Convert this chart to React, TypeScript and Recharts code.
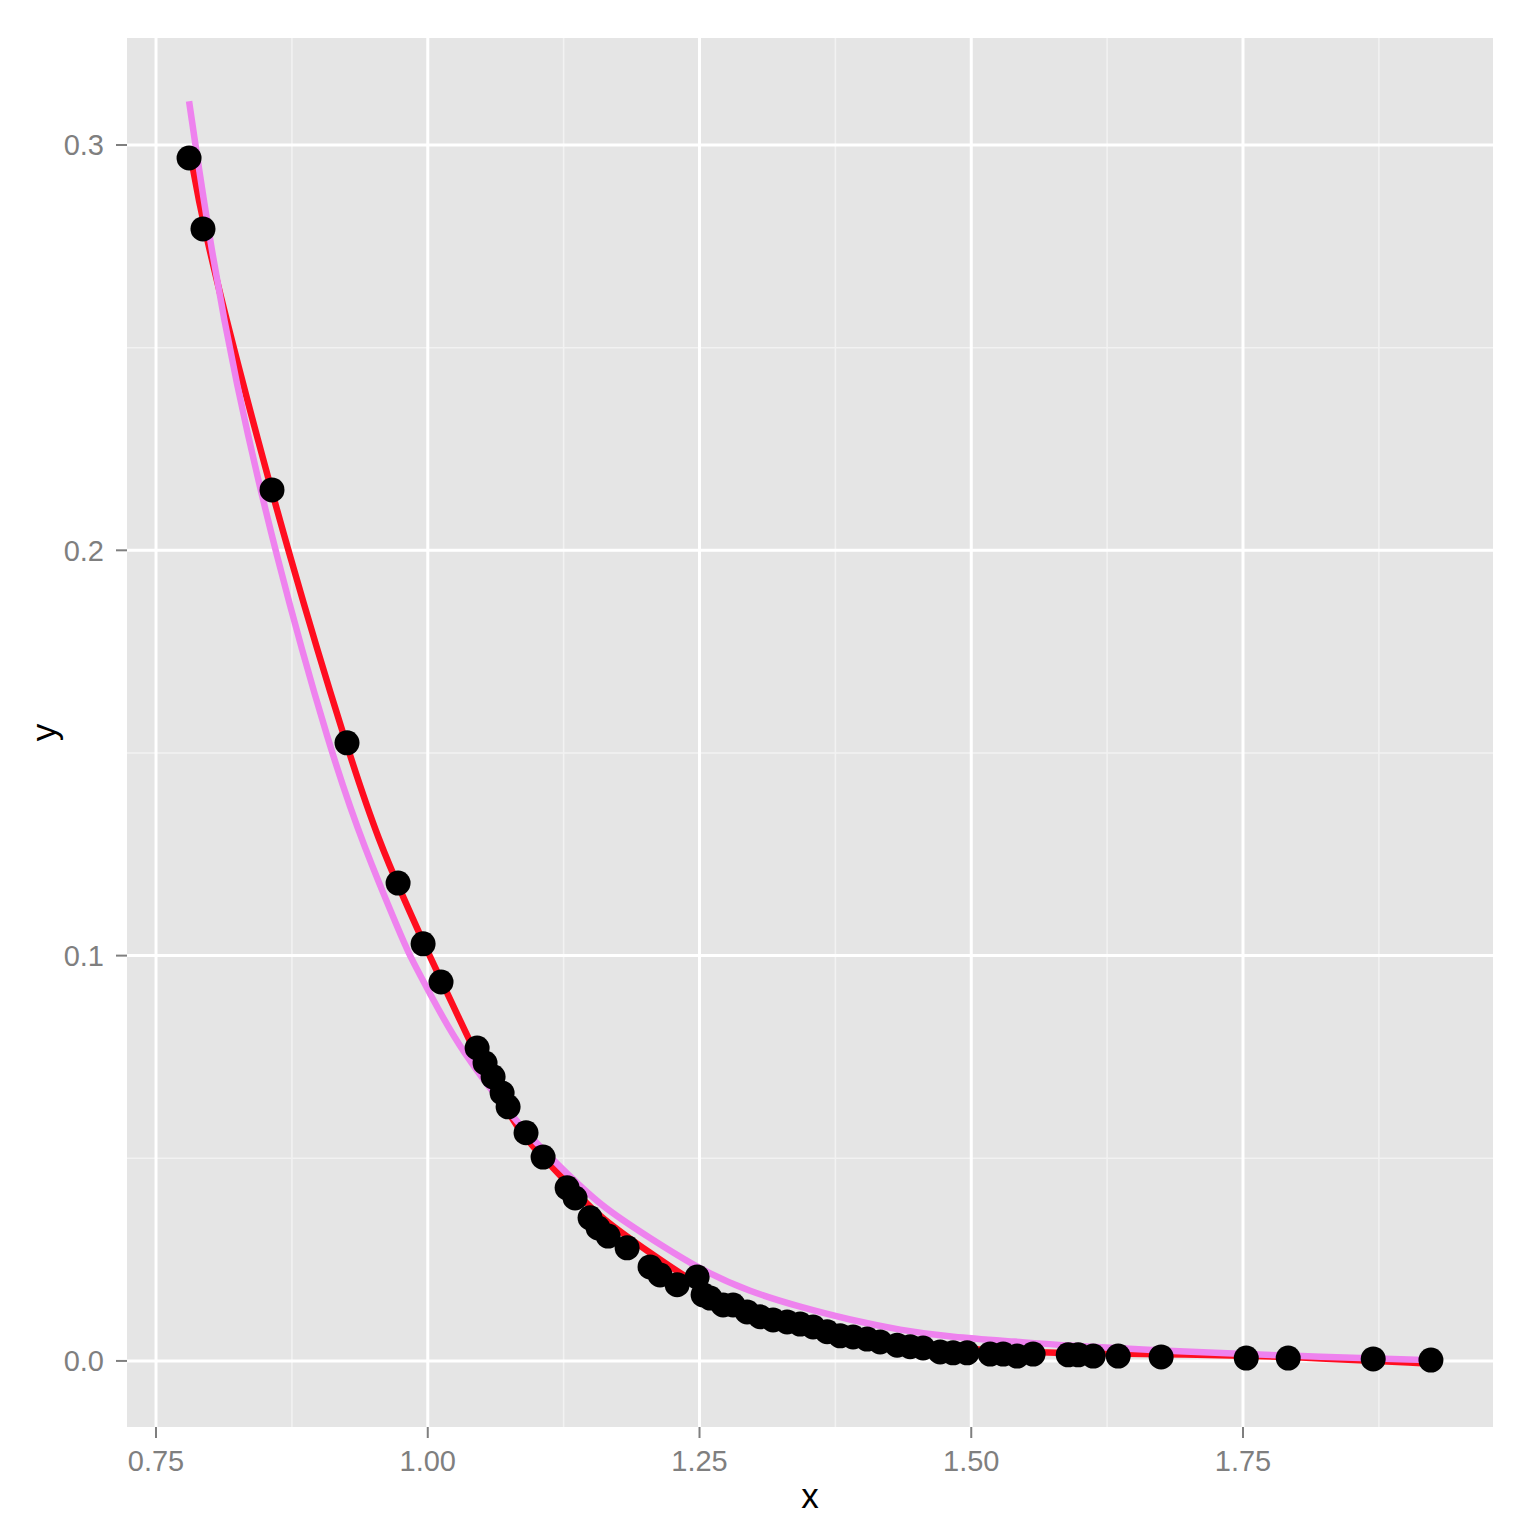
import React from "react";
import {
  ComposedChart,
  Scatter,
  Line,
  XAxis,
  YAxis,
  CartesianGrid,
} from "recharts";

// observed points
const pointX = [
  0.7804, 0.7932, 0.8567, 0.9257, 0.9727, 0.9957, 1.0122, 1.0454, 1.0527, 1.0601,
  1.0684, 1.0739, 1.0904, 1.1061, 1.1282, 1.1355, 1.1493, 1.1567, 1.1659, 1.1834,
  1.2045, 1.2137, 1.2294, 1.2478, 1.2533, 1.2598, 1.2717, 1.2809, 1.2938, 1.3058,
  1.3177, 1.3306, 1.3426, 1.3545, 1.3674, 1.3794, 1.3913, 1.4042, 1.4162, 1.4318,
  1.4438, 1.4557, 1.4714, 1.4833, 1.4962, 1.5174, 1.5294, 1.5422, 1.5569, 1.5892,
  1.5984, 1.6122, 1.6352, 1.6747, 1.753, 1.7916, 1.8698, 1.9229,
];
const pointY = [
  0.2968, 0.2793, 0.2149, 0.1525, 0.1179, 0.1029, 0.0935, 0.0772, 0.0735, 0.0701,
  0.0661, 0.0627, 0.0563, 0.0503, 0.0427, 0.0402, 0.0353, 0.0328, 0.0308, 0.0279,
  0.0232, 0.0212, 0.0188, 0.0207, 0.0163, 0.0155, 0.0138, 0.0138, 0.0121, 0.0109,
  0.0101, 0.0096, 0.0091, 0.0084, 0.0072, 0.0062, 0.0059, 0.0054, 0.0047, 0.0039,
  0.0035, 0.0032, 0.0022, 0.002, 0.002, 0.0017, 0.0017, 0.0012, 0.0017, 0.0015,
  0.0015, 0.0012, 0.0012, 0.001, 0.0007, 0.0007, 0.0005, 0.0002,
];

// red fit
const redX = [
  0.7804, 0.7939, 0.8289, 0.8708, 0.9269, 0.9561, 0.9773, 0.999, 1.0297, 1.05,
  1.0849, 1.1, 1.1401, 1.1585, 1.2045, 1.2506, 1.2966, 1.3426, 1.3886, 1.4346,
  1.4806, 1.545, 1.58, 1.7, 1.8, 1.9229,
];
const redY = [
  0.2995, 0.2791, 0.242, 0.2001, 0.15, 0.1275, 0.1145, 0.1014, 0.0841, 0.0723,
  0.0563, 0.052, 0.0405, 0.0355, 0.0266, 0.0183, 0.0121, 0.0084, 0.0059, 0.0044,
  0.0032, 0.0022, 0.002, 0.0016, 0.001, -0.0007,
];

// violet fit
const violetX = [
  0.7804, 0.7988, 0.8227, 0.8586, 0.9107, 0.9423, 0.9745, 0.9835, 1.0003, 1.0297,
  1.0849, 1.1217, 1.1585, 1.2045, 1.2506, 1.2966, 1.3426, 1.3886, 1.4346, 1.4806,
  1.545, 1.58, 1.7, 1.8, 1.9229,
];
const violetY = [
  0.3108, 0.2771, 0.242, 0.2001, 0.15, 0.1261, 0.1055, 0.0999, 0.0915, 0.0767,
  0.0577, 0.0479, 0.0383, 0.0303, 0.0225, 0.017, 0.0133, 0.0101, 0.0076, 0.0059,
  0.0047, 0.0039, 0.0022, 0.0012, 0.0002,
];

const xTicks = [0.75, 1.0, 1.25, 1.5, 1.75];
const yTicks = [0.0, 0.1, 0.2, 0.3];
const xMinor = [0.875, 1.125, 1.375, 1.625, 1.875];
const yMinor = [0.05, 0.15, 0.25];

const points = pointX.map((x, i) => ({ x, y: pointY[i] }));
const redLine = redX.map((x, i) => ({ x, y: redY[i] }));
const violetLine = violetX.map((x, i) => ({ x, y: violetY[i] }));

const font = "'Liberation Sans', Arial, Helvetica, sans-serif";
const tickStyle = { fill: "#7f7f7f", fontSize: 29, fontFamily: font };

const Dot = (props: any) => (
  <circle cx={props.cx} cy={props.cy} r={12.5} fill="#000000" />
);

const YLabel = (props: any) => {
  const { x, y, height } = props.viewBox;
  const cx = x + 43;
  const cy = y + height / 2;
  return (
    <text
      x={cx}
      y={cy}
      transform={`rotate(-90 ${cx} ${cy})`}
      textAnchor="middle"
      dominantBaseline="central"
      fontSize={35}
      fontFamily={font}
      fill="#000"
    >
      y
    </text>
  );
};

export default function App() {
  return (
    <div style={{ position: "absolute", left: 0, top: 0, background: "#fff" }}>
      <ComposedChart
        width={1520}
        height={1530}
        margin={{ top: 38, right: 27, left: 0, bottom: 0 }}
      >
        <CartesianGrid
          fill="#e5e5e5"
          stroke="#f2f2f2"
          strokeWidth={1.5}
          verticalValues={xMinor}
          horizontalValues={yMinor}
        />
        <CartesianGrid
          stroke="#ffffff"
          strokeWidth={3}
          verticalValues={xTicks}
          horizontalValues={yTicks}
        />
        <XAxis
          type="number"
          dataKey="x"
          domain={[0.7233, 1.98]}
          ticks={xTicks}
          tickFormatter={(v: number) => v.toFixed(2)}
          allowDataOverflow
          height={103}
          axisLine={false}
          tickSize={11}
          tickMargin={12}
          tickLine={{ stroke: "#7f7f7f", strokeWidth: 2 }}
          tick={tickStyle}
          label={{
            value: "x",
            position: "insideBottom",
            offset: 22,
            fontSize: 35,
            fontFamily: font,
            fill: "#000",
          }}
        />
        <YAxis
          type="number"
          dataKey="y"
          domain={[-0.0163, 0.3264]}
          ticks={yTicks}
          tickFormatter={(v: number) => v.toFixed(1)}
          allowDataOverflow
          width={127}
          axisLine={false}
          tickSize={11}
          tickMargin={12}
          tickLine={{ stroke: "#7f7f7f", strokeWidth: 2 }}
          tick={tickStyle}
          label={{ content: YLabel }}
        />
        <Scatter data={points} dataKey="y" shape={Dot} isAnimationActive={false} />
        <Line
          data={redLine}
          dataKey="y"
          type="basis"
          stroke="#ff0d1f"
          strokeWidth={6.5}
          dot={false}
          activeDot={false}
          isAnimationActive={false}
        />
        <Line
          data={violetLine}
          dataKey="y"
          type="basis"
          stroke="#ee82ee"
          strokeWidth={6.5}
          dot={false}
          activeDot={false}
          isAnimationActive={false}
        />
      </ComposedChart>
    </div>
  );
}
